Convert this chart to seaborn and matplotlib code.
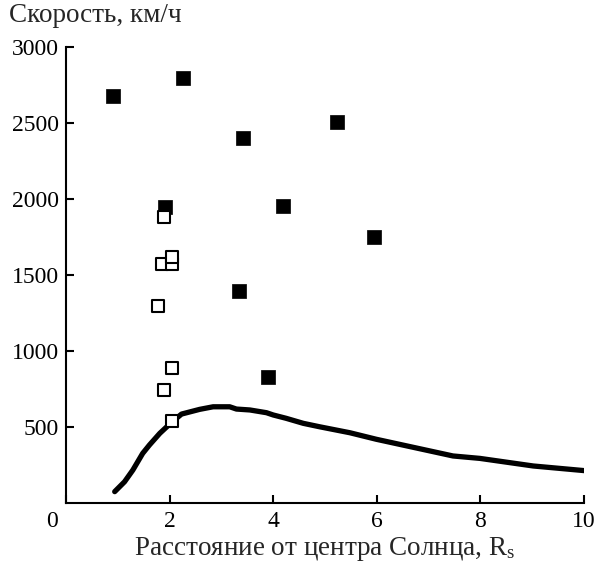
import matplotlib
matplotlib.use("Agg")
import matplotlib.pyplot as plt
import matplotlib.transforms as mtransforms
import seaborn as sns
import pandas as pd

# Данные
filled_x = [0.90, 2.26, 3.42, 5.23, 1.92, 4.19, 5.94, 3.34, 3.89]
filled_y = [2680, 2800, 2400, 2505, 1948, 1954, 1750, 1397, 826]

open_x = [1.90, 1.85, 2.04, 2.04, 1.77, 2.04, 1.90, 2.05]
open_y = [1884, 1572, 1572, 1616, 1298, 885, 744, 536]

curve_x = [0.94, 1.13, 1.29, 1.48, 1.61, 1.81, 2.03, 2.23, 2.58, 2.84, 3.16,
           3.29, 3.55, 3.87, 4.00, 4.25, 4.58, 4.90, 5.48, 5.99, 7.47, 7.99,
           9.02, 10.02]
curve_y = [73, 138, 215, 325, 380, 457, 527, 584, 615, 632, 632,
           617, 611, 593, 578, 556, 523, 500, 461, 418, 308, 292,
           242, 211]

x_ticks = [0, 2, 4, 6, 8, 10]
y_ticks = [500, 1000, 1500, 2000, 2500, 3000]

sns.set_style("ticks")
plt.rcParams["font.family"] = ["Liberation Serif", "DejaVu Serif"]
plt.rcParams["mathtext.fontset"] = "stix"

fig = plt.figure(figsize=(5.99, 5.66), dpi=100)
ax = fig.add_axes([0.1102, 0.1118, 0.8648, 0.8046])

df_curve = pd.DataFrame({"x": curve_x, "y": curve_y})
df_filled = pd.DataFrame({"x": filled_x, "y": filled_y})
df_open = pd.DataFrame({"x": open_x, "y": open_y})

sns.lineplot(data=df_curve, x="x", y="y", color="black", linewidth=3.8,
             sort=False, ax=ax, zorder=2)
sns.scatterplot(data=df_filled, x="x", y="y", marker="s", s=110,
                color="black", edgecolor="black", linewidth=0.5, ax=ax, zorder=3)
sns.scatterplot(data=df_open, x="x", y="y", marker="s", s=85,
                facecolor="white", edgecolor="black", linewidth=1.5, ax=ax, zorder=4)

ax.set_xlim(0, 10)
ax.set_ylim(0, 3000)
ax.set_xticks(x_ticks)
ax.set_yticks(y_ticks)
ax.tick_params(direction="in", length=6, width=1.5, labelsize=17, colors="black")
ax.tick_params(axis="x", pad=6)
ax.tick_params(axis="y", pad=5)
for side in ["top", "right"]:
    ax.spines[side].set_visible(False)
for side in ["left", "bottom"]:
    ax.spines[side].set_linewidth(1.5)
    ax.spines[side].set_color("black")

# подпись "0" сдвинута влево, к углу осей
lbl0 = ax.get_xticklabels()[0]
lbl0.set_transform(lbl0.get_transform() +
                   mtransforms.ScaledTranslation(-0.14, 0, fig.dpi_scale_trans))

ax.set_xlabel("Расстояние от центра Солнца, R$_\\mathregular{s}$", fontsize=19.5,
              labelpad=2)
ax.set_ylabel("")
fig.text(9 / 599, 1 - 3 / 566, "Скорость, км/ч", fontsize=19.5, ha="left", va="top")

fig.savefig("out.png", dpi=100)
